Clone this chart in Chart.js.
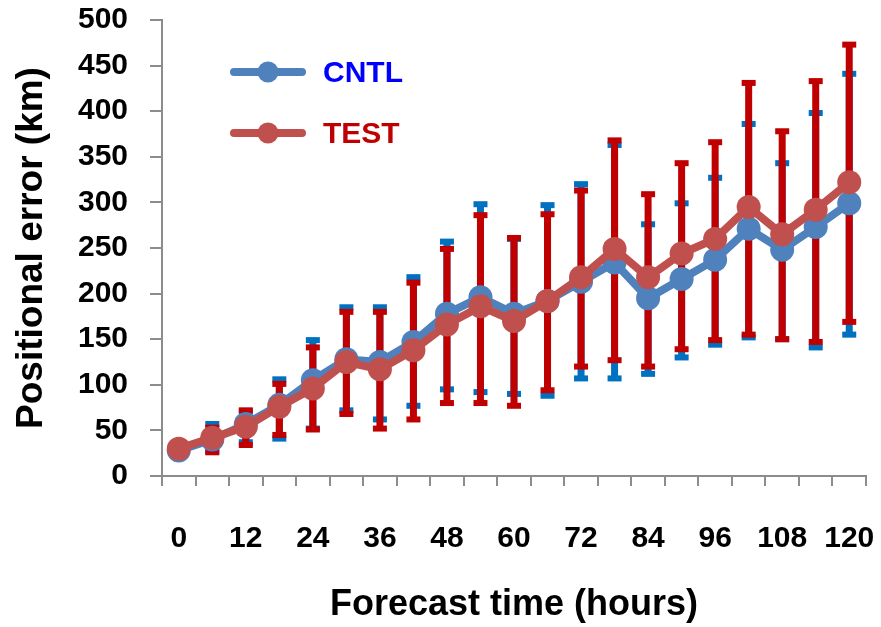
<!DOCTYPE html>
<html>
<head>
<meta charset="utf-8">
<script src="https://cdn.jsdelivr.net/npm/chart.js@4.4.0/dist/chart.umd.min.js"></script>
<style>
html,body{margin:0;padding:0;background:#fff;}
#wrap{width:881px;height:627px;position:relative;}
</style>
</head>
<body>
<div id="wrap"><canvas id="c" width="881" height="627"></canvas></div>
<script>
const hours = ['0','6','12','18','24','30','36','42','48','54','60','66','72','78','84','90','96','102','108','114','120'];
const cntl = [28,40,57,78,105,128,125,147,178,196,178,192,213,234,195,216,237,271,248,273,299];
const test = [30,42,54,76,96,125,117,138,166,186,170,192,218,249,218,244,260,295,265,292,322];
const cntlHigh = [28,57,71,106,149,185,185,218,257,298,260,297,320,363,276,299,327,386,343,398,441];
const cntlLow  = [28,27,37,41,52,72,62,77,95,92,90,88,107,107,112,130,144,152,150,141,155];
const testHigh = [30,53,72,101,141,180,180,212,249,286,261,287,313,368,309,343,366,431,378,433,473];
const testLow  = [30,26,34,45,51,68,52,62,80,80,77,94,120,127,120,139,149,155,150,147,169];
const yTicks = [0,50,100,150,200,250,300,350,400,450,500];

const BLUE = '#4F81BD', RED = '#C0504D';
const BLUE_ERR = '#0070C0', RED_ERR = '#C00000';

const errorBars = {
  id: 'errorBars',
  beforeDatasetsDraw(chart) {
    const ctx = chart.ctx;
    const xs = chart.scales.x, ys = chart.scales.y;
    const sets = [[cntlLow, cntlHigh, BLUE_ERR], [testLow, testHigh, RED_ERR]];
    ctx.save();
    sets.forEach(([lo, hi, col]) => {
      ctx.strokeStyle = col; ctx.fillStyle = col;
      for (let i = 0; i < hours.length; i++) {
        if (lo[i] === hi[i]) continue;
        const x = xs.getPixelForValue(i);
        const y1 = ys.getPixelForValue(lo[i]);
        const y2 = ys.getPixelForValue(hi[i]);
        ctx.lineWidth = 7;
        ctx.beginPath(); ctx.moveTo(x, y1); ctx.lineTo(x, y2); ctx.stroke();
        ctx.fillRect(x - 7, y1 - 3, 14, 6);
        ctx.fillRect(x - 7, y2 - 3, 14, 6);
      }
    });
    ctx.restore();
  }
};

const legendPlugin = {
  id: 'customLegend',
  afterDraw(chart) {
    const ctx = chart.ctx;
    const items = [['CNTL', BLUE, '#0000FF', 72], ['TEST', RED, '#C00000', 133]];
    ctx.save();
    items.forEach(([txt, lc, tc, y]) => {
      ctx.strokeStyle = lc; ctx.lineWidth = 8; ctx.lineCap = 'round';
      ctx.beginPath(); ctx.moveTo(234, y); ctx.lineTo(302, y); ctx.stroke();
      ctx.fillStyle = lc;
      ctx.beginPath(); ctx.arc(268, y, 10.5, 0, Math.PI * 2); ctx.fill();
      ctx.fillStyle = tc;
      ctx.font = 'bold 30px "Liberation Sans", Arial, sans-serif';
      ctx.textBaseline = 'middle';
      ctx.textAlign = 'left';
      ctx.fillText(txt, 323, y + 2);
    });
    ctx.restore();
  }
};

new Chart(document.getElementById('c'), {
  type: 'line',
  data: {
    labels: hours,
    datasets: [
      { label: 'CNTL', data: cntl, borderColor: BLUE, backgroundColor: BLUE, borderWidth: 8,
        pointRadius: 12, pointBorderWidth: 0, pointBackgroundColor: BLUE, pointHoverRadius: 12, order: 2 },
      { label: 'TEST', data: test, borderColor: RED, backgroundColor: RED, borderWidth: 8,
        pointRadius: 12, pointBorderWidth: 0, pointBackgroundColor: RED, pointHoverRadius: 12, order: 1 }
    ]
  },
  options: {
    responsive: false,
    animation: false,
    events: [],
    layout: { padding: { top: 20, right: 15, left: 0, bottom: 0 } },
    plugins: { legend: { display: false }, tooltip: { enabled: false } },
    scales: {
      x: {
        type: 'category',
        offset: true,
        grid: { offset: true, drawOnChartArea: false, drawTicks: true, tickLength: 10, color: '#8C8C8C', lineWidth: 2 },
        border: { display: true, color: '#8C8C8C', width: 2 },
        ticks: {
          autoSkip: false, maxRotation: 0, minRotation: 0, padding: 35, color: '#000',
          font: { family: '"Liberation Sans", Arial, sans-serif', weight: 'bold', size: 30 },
          callback: function(v, i) { return (i % 2 === 0) ? hours[i] : ''; }
        },
        title: { display: true, text: 'Forecast time (hours)', color: '#000',
          font: { family: '"Liberation Sans", Arial, sans-serif', weight: 'bold', size: 36 },
          padding: { top: 0, bottom: 0 } },
        afterFit(scale) { scale.height = 151; scale.paddingLeft = 0; scale.paddingRight = 0; }
      },
      y: {
        min: 0, max: 500,
        afterBuildTicks(scale) { scale.ticks = yTicks.map(v => ({ value: v })); },
        grid: { drawOnChartArea: false, drawTicks: true, tickLength: 12, color: '#8C8C8C', lineWidth: 2 },
        border: { display: true, color: '#8C8C8C', width: 2 },
        ticks: { padding: 22, color: '#000',
          font: { family: '"Liberation Sans", Arial, sans-serif', weight: 'bold', size: 30 } },
        title: { display: true, text: 'Positional error (km)', color: '#000',
          font: { family: '"Liberation Sans", Arial, sans-serif', weight: 'bold', size: 37 },
          padding: { top: 10, bottom: 0 } },
        afterFit(scale) { scale.width = 162; scale.paddingTop = 0; scale.paddingBottom = 0; }
      }
    }
  },
  plugins: [errorBars, legendPlugin]
});
</script>
</body>
</html>
